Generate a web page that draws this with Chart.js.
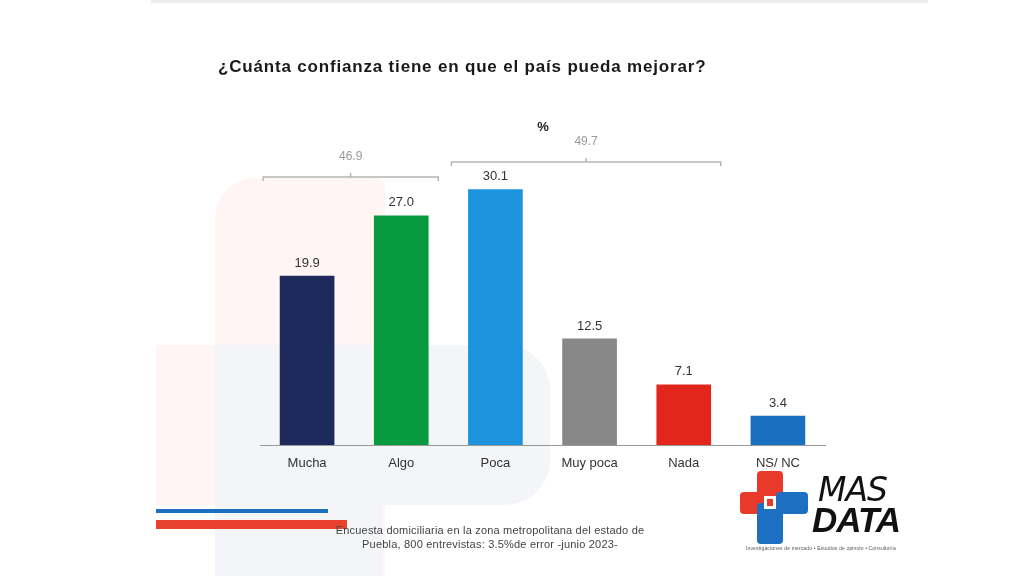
<!DOCTYPE html>
<html>
<head>
<meta charset="utf-8">
<script src="https://cdn.jsdelivr.net/npm/chart.js@4"></script>
<style>
  html, body { margin: 0; padding: 0; background: #fff; }
  #wrap { position: relative; width: 1024px; height: 576px; overflow: hidden; }
  #chart { position: absolute; left: 0; top: 0; }
  .txt { position: absolute; font-family: "Liberation Sans", Arial, sans-serif; white-space: nowrap; }
  #title { left: 218px; top: 57px; font-size: 17px; font-weight: bold; color: #1a1a1a; letter-spacing: 0.82px; }
  #note { left: 290px; width: 400px; top: 523px; font-size: 11px; color: #444; text-align: center; line-height: 14px; letter-spacing: 0.2px; }
  .arm { position: absolute; border-radius: 4px; }
  #mas { left: 818px; top: 470px; font-size: 33px; font-style: italic; color: #111; font-family: "DejaVu Sans", sans-serif; font-weight: normal; letter-spacing: -1px; }
  #data { left: 812px; top: 500px; font-size: 35px; font-style: italic; font-weight: bold; color: #111; font-family: "Liberation Sans", sans-serif; letter-spacing: -1px; }
  #tag { left: 746px; top: 545px; font-size: 5px; color: #555; letter-spacing: 0.15px; }
</style>
</head>
<body>
<div id="wrap">
  <canvas id="chart" width="1024" height="576"></canvas>
  <div class="txt" id="title">¿Cuánta confianza tiene en que el país pueda mejorar?</div>
  <div class="txt" id="note">Encuesta domiciliaria en la zona metropolitana del estado de<br>Puebla, 800 entrevistas: 3.5%de error -junio 2023-</div>
  <!-- logo -->
  <div class="arm" style="left:757px;top:471px;width:26px;height:36px;background:#e8392b"></div>
  <div class="arm" style="left:740px;top:492px;width:32px;height:22px;background:#e8392b"></div>
  <div class="arm" style="left:757px;top:503px;width:26px;height:41px;background:#1d6fc1"></div>
  <div class="arm" style="left:776px;top:492px;width:32px;height:22px;background:#1d6fc1"></div>
  <div style="position:absolute;left:764px;top:496px;width:12px;height:13px;background:#fff"></div>
  <div style="position:absolute;left:767px;top:499px;width:6px;height:7px;background:#e8392b"></div>
  <div class="txt" id="mas">MAS</div>
  <div class="txt" id="data">DATA</div>
  <div class="txt" id="tag">Investigaciones de mercado • Estudios de opinión • Consultoría</div>
</div>
<script>
const categories = ['Mucha', 'Algo', 'Poca', 'Muy poca', 'Nada', 'NS/ NC'];
const values = [19.9, 27.0, 30.1, 12.5, 7.1, 3.4];
const barColors = ['#1f2a5c', '#079a3e', '#1e93dd', '#878787', '#e3261c', '#1a6fc0'];
// brackets grouping categories (from index, to index)
const groupLabels = ['46.9', '49.7'];
const groupFrom = [0, 2];
const groupTo = [1, 4];

const watermark = {
  id: 'watermark',
  beforeDraw(chart) {
    const c = chart.ctx;
    c.save();
    // top strip
    c.fillStyle = '#ececec';
    c.fillRect(151, 0, 777, 3);
    // pink shape
    c.fillStyle = '#fef5f4';
    c.beginPath();
    c.roundRect(215, 178, 170, 420, [40, 10, 0, 0]);
    c.fill();
    c.fillRect(156, 345, 59, 160);
    // blue-grey P shape
    c.fillStyle = '#f3f5f8';
    c.fillRect(215, 345, 167, 231);
    c.beginPath();
    c.roundRect(382, 345, 168, 160, [0, 45, 45, 0]);
    c.fill();
    // footer stripes
    c.fillStyle = '#1d6fc1';
    c.fillRect(156, 509, 172, 4);
    c.fillStyle = '#e8422f';
    c.fillRect(156, 520, 191, 9);
    c.restore();
  }
};

const labelsAndBrackets = {
  id: 'labelsAndBrackets',
  afterDatasetsDraw(chart) {
    const c = chart.ctx;
    const meta = chart.getDatasetMeta(0);
    c.save();
    c.font = '13px "Liberation Sans", Arial, sans-serif';
    c.fillStyle = '#333';
    c.textAlign = 'center';
    c.textBaseline = 'middle';
    meta.data.forEach((bar, i) => {
      c.fillText(values[i].toFixed(1), bar.x, bar.y - 13);
    });
    // brackets
    const x = chart.scales.x;
    const bracketY = [177, 162];
    c.strokeStyle = '#b5b5b5';
    c.lineWidth = 1.5;
    c.fillStyle = '#9a9a9a';
    c.font = '12px "Liberation Sans", Arial, sans-serif';
    groupLabels.forEach((lab, g) => {
      const x0 = x.getPixelForValue(groupFrom[g]) - 44;
      const x1 = x.getPixelForValue(groupTo[g]) + 37;
      const y = bracketY[g];
      const mid = (x0 + x1) / 2;
      c.beginPath();
      c.moveTo(x0, y + 4);
      c.lineTo(x0, y);
      c.lineTo(x1, y);
      c.lineTo(x1, y + 4);
      c.moveTo(mid, y);
      c.lineTo(mid, y - 4);
      c.stroke();
      c.fillText(lab, mid, y - 20);
    });
    c.fillStyle = '#222';
    c.font = 'bold 13px "Liberation Sans", Arial, sans-serif';
    c.fillText('%', 543, 127);
    c.restore();
  }
};

new Chart(document.getElementById('chart'), {
  type: 'bar',
  data: {
    labels: categories,
    datasets: [{
      data: values,
      backgroundColor: barColors,
      barThickness: 54
    }]
  },
  options: {
    responsive: false,
    animation: false,
    layout: { padding: { left: 260, right: 199, top: 148, bottom: 101 } },
    plugins: { legend: { display: false }, tooltip: { enabled: false } },
    scales: {
      x: {
        grid: { display: false, drawTicks: false },
        border: { display: true, color: '#999', width: 1 },
        ticks: { color: '#333', padding: 11, font: { size: 13, family: '"Liberation Sans", Arial, sans-serif' } },
        afterFit(scale) { scale.height = 30; }
      },
      y: { display: false, min: 0, max: 35 }
    }
  },
  plugins: [watermark, labelsAndBrackets]
});
</script>
</body>
</html>
